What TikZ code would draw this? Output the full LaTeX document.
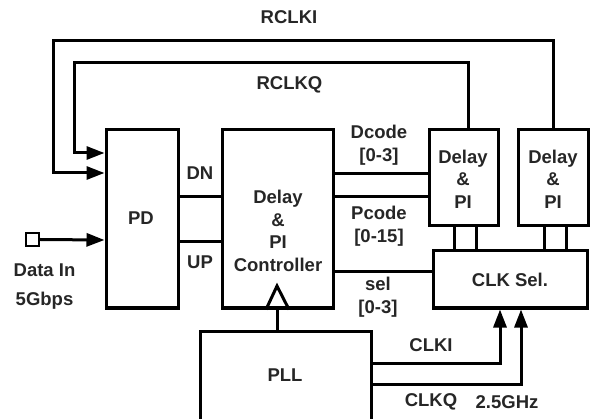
\documentclass[tikz,border=0pt]{standalone}
\usepackage{fontspec}
\setmainfont{Liberation Sans}
\usetikzlibrary{arrows.meta}
\begin{document}
\begin{tikzpicture}[x=1pt,y=-1pt,
  line width=3pt,
  box/.style={draw,rectangle,inner sep=0pt},
  txt/.style={font=\fontsize{18.5}{22.5}\selectfont\bfseries,inner sep=0pt,align=center,text=black!85},
  arr/.style={-{Triangle[length=18pt,width=13pt]}}]
\useasboundingbox (0,0) rectangle (591,419);
% blocks
\node[box,minimum width=72pt,minimum height=178pt] (pd) at (142,219) {};
\node[box,minimum width=111pt,minimum height=178pt] (ctrl) at (277.5,219) {};
\node[box,minimum width=69pt,minimum height=96pt] (d1) at (463.5,178) {};
\node[box,minimum width=70pt,minimum height=96pt] (d2) at (553,178) {};
\node[box,minimum width=154pt,minimum height=57pt] (sel) at (510,279.5) {};
\node[box,minimum width=171pt,minimum height=92pt] (pll) at (285.5,377) {};
\node[draw,rectangle,line width=2.4pt,minimum size=13pt,inner sep=0pt] (din) at (32.5,239.5) {};
% block texts
\node[txt] (pdt) at (141,218) {PD};
\node[txt] (ctrlt) at (278,231) {Delay\\\&\\PI\\Controller};
\node[txt] (d1t) at (463,179) {Delay\\\&\\PI};
\node[txt] (d2t) at (553,179) {Delay\\\&\\PI};
\node[txt] (selt) at (510,280) {CLK Sel.};
\node[txt] (pllt) at (285,375) {PLL};
% labels
\node[txt] (lrclki) at (289,17) {RCLKI};
\node[txt] (lrclkq) at (289.5,85) {RCLKQ};
\node[txt] (ldn) at (200,173) {DN};
\node[txt] (lup) at (200,262) {UP};
\node[txt] (ldcode) at (379,145) {Dcode\\{[0-3]}};
\node[txt] (lpcode) at (379,226) {Pcode\\{[0-15]}};
\node[txt] (lsel) at (378,297) {sel\\{[0-3]}};
\node[txt] (lclki) at (431,345) {CLKI};
\node[txt] (lclkq) at (431,402) {CLKQ};
\node[txt] (lghz) at (507,402) {2.5GHz};
\node[txt] (ldin) at (44.5,270) {Data In};
\node[txt] (lgbps) at (44.5,301) {5Gbps};
% feedback clocks
\draw[arr] (d2.north) |- (53,41) |- ([yshift=46pt]pd.west);
\draw[arr] ([xshift=4.5pt]d1.north) |- (74,63) |- ([yshift=66pt]pd.west);
% data in
\draw[arr] (din.east) -- ([yshift=-21pt]pd.west);
% PD to controller
\draw ([yshift=22pt]pd.east) -- ([yshift=22pt]ctrl.west);
\draw ([yshift=-23pt]pd.east) -- ([yshift=-23pt]ctrl.west);
% controller to delay/PI and CLK sel
\draw ([yshift=45pt]ctrl.east) -- ([yshift=4pt]d1.west);
\draw ([yshift=22pt]ctrl.east) -- ([yshift=-19pt]d1.west);
\draw ([yshift=-53pt]ctrl.east) -- ([yshift=7.5pt]sel.west);
% delay/PI to CLK sel
\draw ([xshift=-9.5pt]d1.south) -- ([xshift=-56pt]sel.north);
\draw ([xshift=12.5pt]d1.south) -- ([xshift=-34pt]sel.north);
\draw ([xshift=-9pt]d2.south) -- ([xshift=34pt]sel.north);
\draw ([xshift=13pt]d2.south) -- ([xshift=56pt]sel.north);
% PLL clock into controller
\draw[line join=miter] ([xshift=-11.5pt]ctrl.south) -- (277,286) coordinate (apex) -- ([xshift=11.5pt]ctrl.south);
\draw ([xshift=-8.5pt]pll.north) -- ([xshift=-0.5pt]ctrl.south);
% PLL clocks to CLK sel
\draw[arr] ([yshift=14pt]pll.east) -| ([xshift=-10pt]sel.south);
\draw[arr] ([yshift=-7pt]pll.east) -| ([xshift=11pt]sel.south);
\end{tikzpicture}
\end{document}
